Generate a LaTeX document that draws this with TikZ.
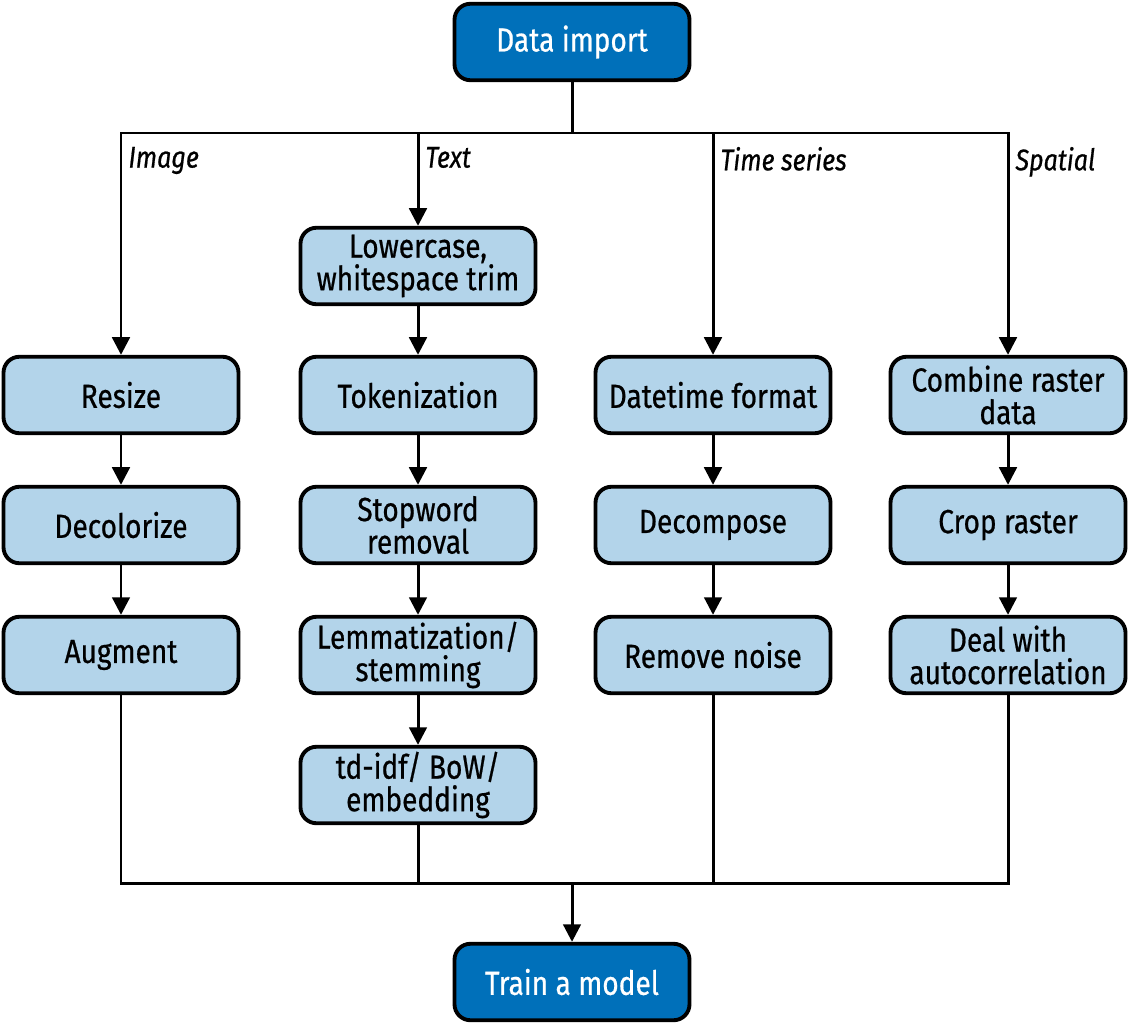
\documentclass[tikz,border=0pt]{standalone}
\usepackage{fontspec}
\setmainfont[FakeStretch=0.84, FakeBold=0.6]{Fira Sans}
\usetikzlibrary{arrows.meta}
\definecolor{darkblue}{HTML}{0070BA}
\definecolor{lightblue}{HTML}{B3D4EA}
\tikzset{
  box/.style={draw, line width=2.2pt, rounded corners=0.32cm, fill=lightblue, minimum width=4.7cm, minimum height=1.53cm, align=center, font=\fontsize{19}{18.5}\selectfont, inner sep=1pt},
  mainbox/.style={box, fill=darkblue, text=white},
  lab/.style={anchor=north west, font=\fontsize{17}{19}\selectfont\itshape, inner sep=0pt}
}
\begin{document}
\begin{tikzpicture}[line width=1.7pt, >={Triangle[width=10pt,length=10pt]}]
            \useasboundingbox (0,0) rectangle (22.58,-20.5);

            \node[mainbox] (D) at (11.44,-0.84) {Data import};
            \node[mainbox] (T) at (11.44,-19.64) {Train a model};

            \node[box] (L) at (8.36,-5.32) {Lowercase,\\whitespace trim};

            \node[box] (R1) at (2.42,-7.9) {Resize};
            \node[box] (R2) at (2.42,-10.5) {Decolorize};
            \node[box] (R3) at (2.42,-13.1) {Augment};

            \node[box] (K1) at (8.36,-7.9) {Tokenization};
            \node[box] (K2) at (8.36,-10.5) {Stopword\\removal};
            \node[box] (K3) at (8.36,-13.1) {Lemmatization/\\stemming};
            \node[box] (K4) at (8.36,-15.7) {td-idf/ BoW/\\embedding};

            \node[box] (S1) at (14.26,-7.9) {Datetime format};
            \node[box] (S2) at (14.26,-10.5) {Decompose};
            \node[box] (S3) at (14.26,-13.1) {Remove noise};

            \node[box] (P1) at (20.16,-7.9) {Combine raster\\data};
            \node[box] (P2) at (20.16,-10.5) {Crop raster};
            \node[box] (P3) at (20.16,-13.1) {Deal with\\autocorrelation};

            \coordinate (top) at (11.44,-2.66);
            \coordinate (bot) at (11.44,-17.66);

            \draw (D) -- (top);
            \draw[->] (top) -| (R1) node[pos=0.5, lab, xshift=0.12cm, yshift=-0.25cm] {Image};
            \draw[->] (top) -| (L) node[pos=0.5, lab, xshift=0.12cm, yshift=-0.25cm] {Text};
            \draw[->] (top) -| (S1) node[pos=0.5, lab, xshift=0.12cm, yshift=-0.25cm] {Time series};
            \draw[->] (top) -| (P1) node[pos=0.5, lab, xshift=0.12cm, yshift=-0.25cm] {Spatial};

            \draw[->] (L) to (K1); \draw[->] (K1) to (K2); \draw[->] (K2) to (K3); \draw[->] (K3) to (K4);
            \draw[->] (R1) to (R2); \draw[->] (R2) to (R3);
            \draw[->] (S1) to (S2); \draw[->] (S2) to (S3);
            \draw[->] (P1) to (P2); \draw[->] (P2) to (P3);

            \draw (R3) |- (bot); \draw (K4) |- (bot);
            \draw (S3) |- (bot); \draw (P3) |- (bot);
            \draw[->] (bot) to (T);
        \end{tikzpicture}
\end{document}
